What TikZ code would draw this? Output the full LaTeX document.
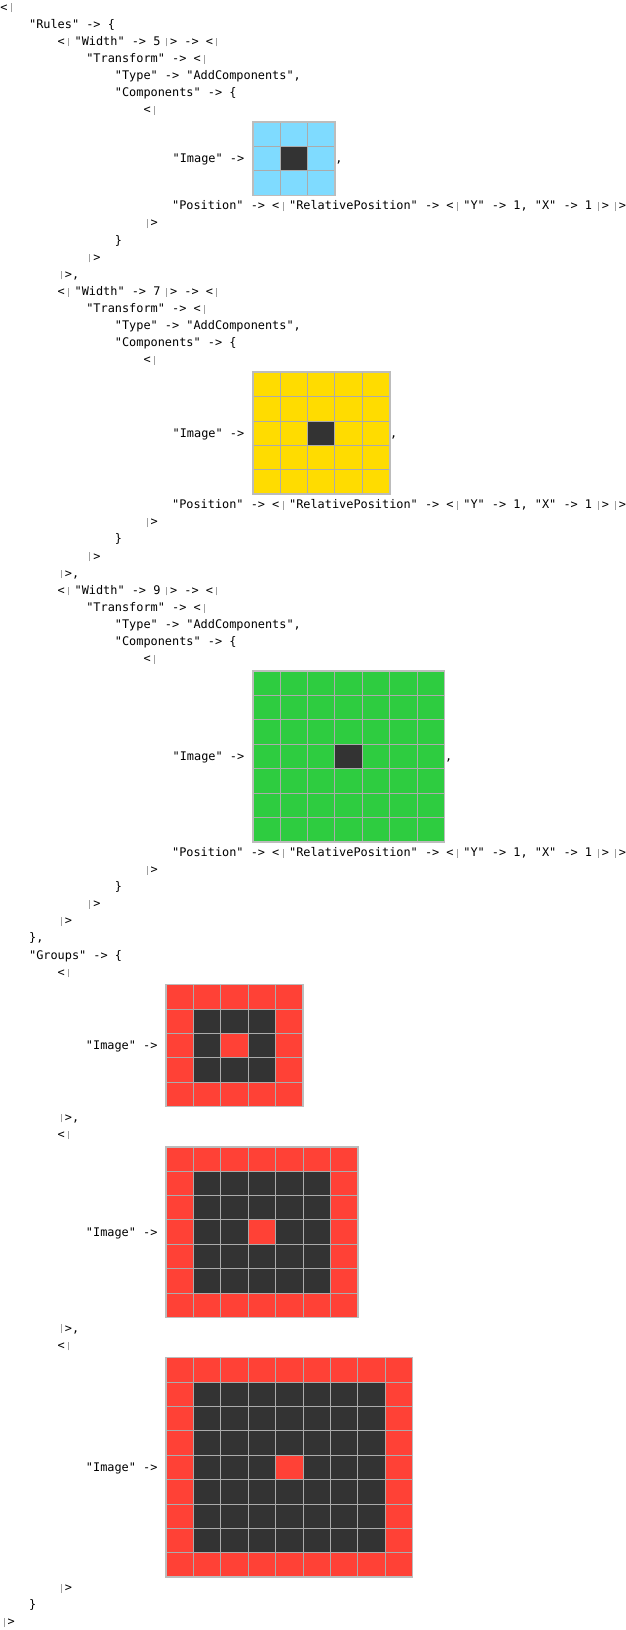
\documentclass[tikz,border=0pt]{standalone}
\usepackage{fontspec}
\setmonofont{DejaVu Sans Mono}
\usetikzlibrary{positioning}

\definecolor{arcBlue}{HTML}{7FDBFF}
\definecolor{arcYellow}{HTML}{FFDC00}
\definecolor{arcGreen}{HTML}{2ECC40}
\definecolor{arcRed}{HTML}{FF4136}
\definecolor{arcDark}{HTML}{333333}
\definecolor{lineGray}{HTML}{ABABAB}
\definecolor{barGray}{HTML}{A0A0A0}

\newcommand{\cellW}{27.4}
\newcommand{\cellH}{24.4}
\newcommand{\assocBar}{\textcolor{barGray}{\makebox[7.15pt]{\rule[-1.2pt]{0.8pt}{8.8pt}}}}
\newcommand{\lAs}{<\assocBar\kern2.6pt}
\newcommand{\rAs}{\kern2.6pt\assocBar>}
\newcommand{\rEnd}{\assocBar>}

\tikzstyle{codeLine} = [anchor=base west, inner sep=0pt, outer sep=0pt, font=\ttfamily\fontsize{11.88}{14}\selectfont]
\tikzstyle{imgFrame} = [draw=lineGray!80, line width=1.6pt, inner sep=0pt, outer sep=0pt, anchor=north west]
\tikzstyle{cellLine} = [draw=lineGray, line width=1pt]

\begin{document}
\begin{tikzpicture}[x=1pt, y=-1pt]
    \useasboundingbox[fill=white] (0,0) rectangle (625,1630);

    \node[codeLine] (l1) at (0.5,11) {\lAs};
    \node[codeLine] (l2) at (29.1,28.1) {"Rules" -> \{};
    \node[codeLine] (l3) at (57.7,45.2) {\lAs"Width" -> 5\rAs{} -> \lAs};
    \node[codeLine] (l4) at (86.3,62.3) {"Transform" -> \lAs};
    \node[codeLine] (l5) at (114.9,79.4) {"Type" -> "AddComponents",};
    \node[codeLine] (l6) at (114.9,96.5) {"Components" -> \{};
    \node[codeLine] (l7) at (143.5,113.6) {\lAs};
    \node[codeLine] (l8) at (172.1,209.8) {"Position" -> \lAs"RelativePosition" -> \lAs"Y" -> 1, "X" -> 1\rAs\rAs};
    \node[codeLine] (l9) at (143.5,226.9) {\rEnd};
    \node[codeLine] (l10) at (114.9,244) {\}};
    \node[codeLine] (l11) at (86.3,261.1) {\rEnd};
    \node[codeLine] (l12) at (57.7,278.2) {\rEnd,};
    \node[codeLine] (l13) at (57.7,295.3) {\lAs"Width" -> 7\rAs{} -> \lAs};
    \node[codeLine] (l14) at (86.3,312.4) {"Transform" -> \lAs};
    \node[codeLine] (l15) at (114.9,329.5) {"Type" -> "AddComponents",};
    \node[codeLine] (l16) at (114.9,346.6) {"Components" -> \{};
    \node[codeLine] (l17) at (143.5,363.7) {\lAs};
    \node[codeLine] (l18) at (172.1,508.7) {"Position" -> \lAs"RelativePosition" -> \lAs"Y" -> 1, "X" -> 1\rAs\rAs};
    \node[codeLine] (l19) at (143.5,525.8) {\rEnd};
    \node[codeLine] (l20) at (114.9,542.9) {\}};
    \node[codeLine] (l21) at (86.3,560) {\rEnd};
    \node[codeLine] (l22) at (57.7,577.1) {\rEnd,};
    \node[codeLine] (l23) at (57.7,594.2) {\lAs"Width" -> 9\rAs{} -> \lAs};
    \node[codeLine] (l24) at (86.3,611.3) {"Transform" -> \lAs};
    \node[codeLine] (l25) at (114.9,628.4) {"Type" -> "AddComponents",};
    \node[codeLine] (l26) at (114.9,645.5) {"Components" -> \{};
    \node[codeLine] (l27) at (143.5,662.6) {\lAs};
    \node[codeLine] (l28) at (172.1,856.4) {"Position" -> \lAs"RelativePosition" -> \lAs"Y" -> 1, "X" -> 1\rAs\rAs};
    \node[codeLine] (l29) at (143.5,873.5) {\rEnd};
    \node[codeLine] (l30) at (114.9,890.6) {\}};
    \node[codeLine] (l31) at (86.3,907.7) {\rEnd};
    \node[codeLine] (l32) at (57.7,924.8) {\rEnd};
    \node[codeLine] (l33) at (29.1,941.9) {\},};
    \node[codeLine] (l34) at (29.1,959) {"Groups" -> \{};
    \node[codeLine] (l35) at (57.7,976.1) {\lAs};
    \node[codeLine] (l36) at (57.7,1121.1) {\rEnd,};
    \node[codeLine] (l37) at (57.7,1138.2) {\lAs};
    \node[codeLine] (l38) at (57.7,1332) {\rEnd,};
    \node[codeLine] (l39) at (57.7,1349.1) {\lAs};
    \node[codeLine] (l40) at (57.7,1591.7) {\rEnd};
    \node[codeLine] (l41) at (29.1,1608.8) {\}};
    \node[codeLine] (l42) at (0.5,1625.9) {\rEnd};

    % rule images
    \foreach \nm/\gy/\n/\col in {A/122.1/3/arcBlue, B/372.2/5/arcYellow, C/671.1/7/arcGreen}{
        \pgfmathsetmacro{\m}{(\n-1)/2}
        \fill[\col] (252.7,\gy) rectangle ++(\n*\cellW,\n*\cellH);
        \fill[arcDark] (252.7+\m*\cellW,\gy+\m*\cellH) rectangle ++(\cellW,\cellH);
        \foreach \k in {1,...,\n}{
            \draw[cellLine] (252.7+\k*\cellW,\gy) -- ++(0,\n*\cellH);
            \draw[cellLine] (252.7,\gy+\k*\cellH) -- ++(\n*\cellW,0);
        }
        \node[imgFrame, minimum width=\n*\cellW*1pt, minimum height=\n*\cellH*1pt] (img\nm) at (252.7,\gy) {};
        \node[codeLine, anchor=base east, xshift=-8.5pt, yshift=-4pt] (lbl\nm) at (img\nm.west) {"Image" ->};
        \node[codeLine, xshift=0.5pt, yshift=-4pt] (com\nm) at (img\nm.east) {,};
    }

    % group images
    \foreach \nm/\gy/\n in {D/984.6/5, E/1146.7/7, F/1357.6/9}{
        \pgfmathsetmacro{\m}{(\n-1)/2}
        \fill[arcRed] (166,\gy) rectangle ++(\n*\cellW,\n*\cellH);
        \fill[arcDark] (166+\cellW,\gy+\cellH) rectangle ++(\n*\cellW-2*\cellW,\n*\cellH-2*\cellH);
        \fill[arcRed] (166+\m*\cellW,\gy+\m*\cellH) rectangle ++(\cellW,\cellH);
        \foreach \k in {1,...,\n}{
            \draw[cellLine] (166+\k*\cellW,\gy) -- ++(0,\n*\cellH);
            \draw[cellLine] (166,\gy+\k*\cellH) -- ++(\n*\cellW,0);
        }
        \node[imgFrame, minimum width=\n*\cellW*1pt, minimum height=\n*\cellH*1pt] (img\nm) at (166,\gy) {};
        \node[codeLine, anchor=base east, xshift=-8.5pt, yshift=-4pt] (lbl\nm) at (img\nm.west) {"Image" ->};
    }
\end{tikzpicture}
\end{document}
